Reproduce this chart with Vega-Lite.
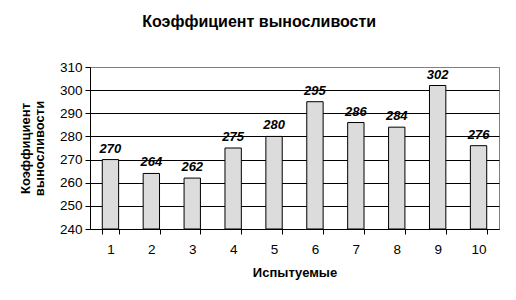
{
  "$schema": "https://vega.github.io/schema/vega-lite/v6.json",
  "autosize": "none",
  "width": 409,
  "height": 162,
  "padding": {"left": 90, "top": 67, "right": 17, "bottom": 71},
  "background": "white",
  "title": {
    "text": "Коэффициент выносливости",
    "font": "Liberation Sans",
    "fontSize": 16,
    "fontWeight": "bold",
    "color": "black",
    "anchor": "middle",
    "frame": "bounds",
    "offset": 30
  },
  "data": {
    "values": [
      {"subject": "1", "value": 270},
      {"subject": "2", "value": 264},
      {"subject": "3", "value": 262},
      {"subject": "4", "value": 275},
      {"subject": "5", "value": 280},
      {"subject": "6", "value": 295},
      {"subject": "7", "value": 286},
      {"subject": "8", "value": 284},
      {"subject": "9", "value": 302},
      {"subject": "10", "value": 276}
    ]
  },
  "encoding": {
    "x": {
      "field": "subject",
      "type": "ordinal",
      "sort": null,
      "scale": {"paddingInner": 0.6, "paddingOuter": 0.3},
      "axis": {
        "title": "Испытуемые",
        "labelAngle": 0,
        "tickBand": "extent",
        "tickSize": 5,
        "tickColor": "black",
        "domainColor": "black",
        "labelFont": "Liberation Sans",
        "labelFontSize": 13.5,
        "labelColor": "black",
        "labelPadding": 8,
        "titleFont": "Liberation Sans",
        "titleFontSize": 13,
        "titleFontWeight": "bold",
        "titleColor": "black",
        "titlePadding": 11
      }
    },
    "y": {
      "field": "value",
      "type": "quantitative",
      "scale": {"domain": [240, 310], "nice": false, "zero": false},
      "axis": {
        "title": ["Коэффициент", "выносливости"],
        "values": [240, 250, 260, 270, 280, 290, 300, 310],
        "grid": true,
        "gridColor": {"condition": {"test": "datum.value == 310", "value": "#808080"}, "value": "black"},
        "gridOpacity": 1,
        "tickSize": 5,
        "tickColor": "black",
        "domainColor": "black",
        "labelFont": "Liberation Sans",
        "labelFontSize": 13.5,
        "labelColor": "black",
        "labelPadding": 3,
        "titleFont": "Liberation Sans",
        "titleFontSize": 13,
        "titleFontWeight": "bold",
        "titleColor": "black",
        "titlePadding": 13,
        "titleLineHeight": 14
      }
    }
  },
  "layer": [
    {
      "mark": {"type": "bar", "fill": "#dcdcdc", "stroke": "black", "strokeWidth": 1},
      "encoding": {"y2": {"datum": 240}}
    },
    {
      "mark": {
        "type": "text",
        "font": "Liberation Sans",
        "fontSize": 13,
        "fontWeight": "bold",
        "fontStyle": "italic",
        "baseline": "alphabetic",
        "dy": -7,
        "color": "black"
      },
      "encoding": {"text": {"field": "value", "type": "quantitative"}}
    }
  ],
  "config": {
    "view": {"stroke": "#808080", "strokeWidth": 1},
    "axis": {"domainWidth": 1, "tickWidth": 1, "gridWidth": 1}
  }
}
